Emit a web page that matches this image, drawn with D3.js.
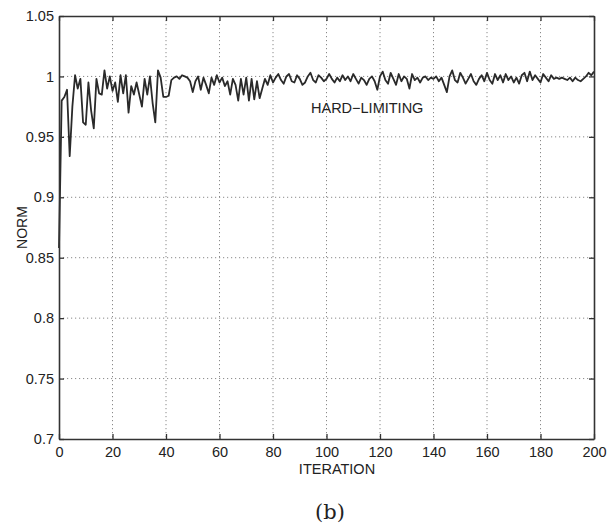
<!DOCTYPE html>
<html>
<head>
<meta charset="utf-8">
<script src="https://cdn.jsdelivr.net/npm/d3@7"></script>
<style>
  body { margin: 0; background: #fff; }
  svg text { font-family: "Liberation Sans", Arial, sans-serif; fill: #222; }
</style>
</head>
<body>
<svg id="chart"></svg>
<script>
var width = 609, height = 524;
var margin = {top: 16, right: 15, bottom: 85, left: 59};

// tick labels
var xTicks = [0, 20, 40, 60, 80, 100, 120, 140, 160, 180, 200];
var yTicks = [0.7, 0.75, 0.8, 0.85, 0.9, 0.95, 1, 1.05];
var yTickLabels = ["0.7", "0.75", "0.8", "0.85", "0.9", "0.95", "1", "1.05"];

// norm per iteration (iterations 0..200)
var norm0 = [0.858, 0.980, 0.983, 0.989, 0.934, 0.975, 1.001, 0.990, 0.998, 0.962,
  0.960, 0.995, 0.972, 0.957, 0.998, 0.986, 0.985, 1.005, 0.990, 1.000,
  0.988, 0.995, 0.979, 1.001, 0.986, 1.001, 0.970, 0.992, 0.985, 0.995,
  0.985, 0.975, 0.998, 0.985, 1.000, 0.978, 0.962, 1.005, 0.999, 0.983,
  0.983];
var norm1 = [0.984, 0.997, 0.999, 1.000, 0.998, 1.001, 1.000, 0.999, 0.996, 0.987,
  0.996, 1.000, 0.989, 0.999, 0.993, 0.986, 0.999, 0.993, 1.001, 0.995,
  0.999, 0.992, 0.996, 0.985, 0.998, 0.993, 0.980, 0.998, 0.985, 0.999,
  0.980, 0.998, 0.981, 0.996, 0.982, 0.990, 0.998, 0.993, 1.001, 0.995];
var norm2 = [0.999, 1.002, 0.997, 0.994, 1.000, 1.002, 0.996, 0.995, 1.001, 0.998,
  0.993, 0.995, 1.000, 1.003, 0.997, 0.995, 1.001, 0.999, 0.996, 0.998,
  1.002, 0.998, 0.995, 0.999, 0.996, 1.001, 0.997, 1.000, 0.996, 1.002,
  0.998, 0.994, 0.999, 0.997, 0.993, 0.998, 1.000, 0.996, 0.989, 1.000,
  1.004, 0.997, 0.994, 1.003, 0.998, 0.993, 1.002, 0.996, 1.000, 0.998,
  0.990, 1.002, 0.997, 0.999, 0.995];
var norm3 = [0.999, 1.000, 0.997, 0.999, 0.998, 1.000, 0.996, 0.999, 0.993, 0.987,
  1.000, 1.005, 0.997, 0.995, 1.003, 0.999, 0.994, 0.998, 1.002, 0.996,
  0.993, 0.998, 1.001, 0.996, 1.003, 0.997, 0.994, 1.002, 0.997, 1.001,
  0.995, 1.002, 0.997, 1.000, 0.995, 0.999, 0.994, 1.001, 1.003, 0.996,
  1.004, 0.997, 1.001, 0.998, 0.995, 1.002, 0.999, 0.996, 1.001, 0.998,
  0.999, 0.998, 0.999, 0.998, 0.997, 0.999, 0.996, 0.999, 0.997, 0.996,
  0.998, 1.000, 1.003, 1.001, 1.004];
var norm = norm0.concat(norm1, norm2, norm3);
var iterations = d3.range(norm.length);

var svg = d3.select("#chart").attr("width", width).attr("height", height);
svg.append("rect").attr("width", width).attr("height", height).attr("fill", "#fff");

var w = width - margin.left - margin.right;
var h = height - margin.top - margin.bottom;

var x = d3.scaleLinear().domain([0, 200]).range([margin.left, margin.left + w]);
var y = d3.scaleLinear().domain([0.7, 1.05]).range([margin.top + h, margin.top]);

// dotted grid
var grid = svg.append("g")
    .attr("stroke", "#8a8a8a")
    .attr("stroke-width", 1)
    .attr("stroke-dasharray", "1.2,2.8");
grid.selectAll("line.gx").data(xTicks.slice(1, -1)).enter().append("line")
    .attr("x1", function (d) { return x(d); })
    .attr("x2", function (d) { return x(d); })
    .attr("y1", margin.top).attr("y2", margin.top + h);
grid.selectAll("line.gy").data(yTicks.slice(1, -1)).enter().append("line")
    .attr("x1", margin.left).attr("x2", margin.left + w)
    .attr("y1", function (d) { return y(d); })
    .attr("y2", function (d) { return y(d); });

// the curve
var line = d3.line()
    .x(function (d, i) { return x(iterations[i]); })
    .y(function (d) { return y(d); });
svg.append("path")
    .datum(norm)
    .attr("d", line)
    .attr("fill", "none")
    .attr("stroke", "#2a2a2a")
    .attr("stroke-width", 1.8)
    .attr("stroke-linejoin", "round");

// axes, ticks pointing inward on all four sides
var fmtY = function (d, i) { return yTickLabels[i]; };
svg.append("g")
    .attr("transform", "translate(0," + (margin.top + h) + ")")
    .call(d3.axisBottom(x).tickValues(xTicks).tickSizeInner(-5).tickSizeOuter(0).tickPadding(8));
svg.append("g")
    .attr("transform", "translate(0," + margin.top + ")")
    .call(d3.axisTop(x).tickValues(xTicks).tickSizeInner(-5).tickSizeOuter(0).tickFormat(""));
svg.append("g")
    .attr("transform", "translate(" + margin.left + ",0)")
    .call(d3.axisLeft(y).tickValues(yTicks).tickFormat(fmtY).tickSizeInner(-5).tickSizeOuter(0).tickPadding(5));
svg.append("g")
    .attr("transform", "translate(" + (margin.left + w) + ",0)")
    .call(d3.axisRight(y).tickValues(yTicks).tickSizeInner(-5).tickSizeOuter(0).tickFormat(""));

svg.selectAll(".domain").attr("stroke", "#333").attr("stroke-width", 1.6);
svg.selectAll(".tick line").attr("stroke", "#333").attr("stroke-width", 1.3);
svg.selectAll(".tick text")
    .attr("font-family", "'Liberation Sans', Arial, sans-serif")
    .attr("font-size", 14.5)
    .attr("fill", "#222");

// labels
svg.append("text")
    .attr("x", 337).attr("y", 474)
    .attr("text-anchor", "middle")
    .attr("font-size", 14.5)
    .text("ITERATION");
svg.append("text")
    .attr("transform", "translate(27," + (margin.top + h / 2) + ") rotate(-90)")
    .attr("text-anchor", "middle")
    .attr("font-size", 14)
    .text("NORM");
svg.append("text")
    .attr("x", 311).attr("y", 113)
    .attr("font-size", 14.5)
    .text("HARD\u2212LIMITING");
svg.append("text")
    .attr("x", 330).attr("y", 519)
    .attr("text-anchor", "middle")
    .style("font-family", "'DejaVu Serif', 'Liberation Serif', serif")
    .attr("font-size", 21)
    .text("(b)");
</script>
</body>
</html>
